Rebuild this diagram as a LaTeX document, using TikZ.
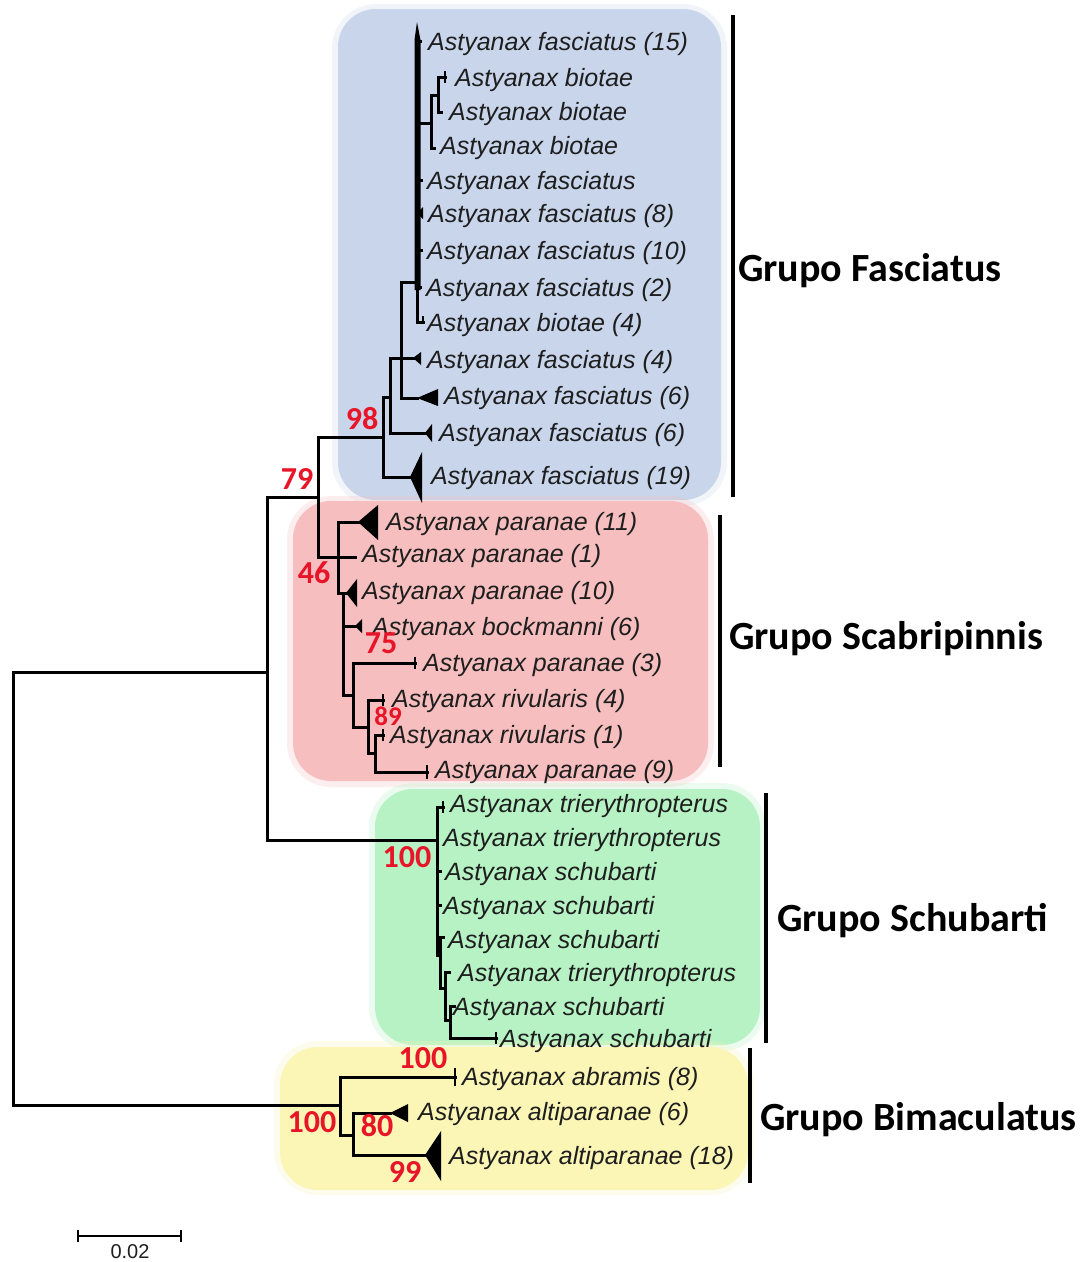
\documentclass[tikz,border=0pt]{standalone}
\usepackage{fontspec}
\setmainfont{Liberation Sans}
\newfontfamily\calib{Carlito}
\definecolor{bxblue}{RGB}{200,213,235}
\definecolor{bxpink}{RGB}{246,190,190}
\definecolor{bxgreen}{RGB}{182,242,196}
\definecolor{bxyellow}{RGB}{251,246,182}
\definecolor{bsred}{RGB}{232,20,40}
\definecolor{txt}{RGB}{30,30,30}
\begin{document}
\begin{tikzpicture}[x=1pt,y=-1pt,
  br/.style={line width=3pt, draw=black, line cap=rect},
  tick/.style={line width=2pt, draw=black},
  sp/.style={anchor=base west, inner sep=0pt, font=\fontsize{25}{30}\selectfont\itshape, text=txt},
  bs/.style={anchor=center, inner sep=0pt, font=\calib\bfseries\fontsize{32}{38}\selectfont, text=bsred},
  grp/.style={anchor=base west, inner sep=0pt, font=\calib\bfseries\fontsize{40}{48}\selectfont, text=black},
  gbar/.style={line width=4pt, draw=black},
  softbox/.style={opacity=0.25, rounded corners=44pt},
  box/.style={rounded corners=38pt}]
\useasboundingbox (0,0) rectangle (1084,1262);
\fill[white] (0,0) rectangle (1084,1262);
% ---------- background boxes ----------
\fill[bxblue, softbox] (332,4) rectangle (727,506);
\fill[bxblue, box] (338,9) rectangle (721,500);
\fill[bxpink, softbox] (287,496) rectangle (714,787);
\fill[bxpink, box] (293,501) rectangle (708,781);
\fill[bxgreen, softbox] (369,783) rectangle (766,1051);
\fill[bxgreen, box] (375,789) rectangle (760,1045);
\fill[bxyellow, softbox] (274,1041) rectangle (754,1195);
\fill[bxyellow, box] (280,1047) rectangle (748,1190);
% ---------- coordinates ----------
\coordinate (root) at (13,888);
\coordinate (nA) at (267,672);
\coordinate (nB) at (318,497);
\coordinate (n98) at (383,437);
\coordinate (n390) at (390,397);
\coordinate (n400) at (401,358);
\coordinate (nPoly) at (417,282);
\coordinate (tF15) at (420,41);
\coordinate (nB1) at (431,123);
\coordinate (nB2) at (438,95);
\coordinate (tBa) at (445,77);
\coordinate (tBb) at (441,112);
\coordinate (tBc) at (434,148);
\coordinate (tFa) at (421,180);
\coordinate (tF8) at (417,213);
\coordinate (tF10) at (421,250);
\coordinate (tF2) at (420,287);
\coordinate (tB4) at (423,322);
\coordinate (t4f) at (413,358);
\coordinate (t6a) at (417,398);
\coordinate (t6b) at (425,433);
\coordinate (t19) at (410,477);
\coordinate (nS1) at (338,557);
\coordinate (t11) at (358,522);
\coordinate (tP1) at (355,557);
\coordinate (nS2) at (343,593);
\coordinate (t10) at (346,593);
\coordinate (tBk) at (355,626);
\coordinate (nS3) at (353,695);
\coordinate (tP3) at (415,663);
\coordinate (nS4) at (368,727);
\coordinate (tR4) at (383,700);
\coordinate (nS5) at (375,753);
\coordinate (tR1) at (383,735);
\coordinate (tP9) at (427,772);
\coordinate (nSch) at (437,840);
\coordinate (tS1) at (443,807);
\coordinate (tS3) at (440,871);
\coordinate (tS4) at (440,905);
\coordinate (nSc2) at (440,955);
\coordinate (tS5) at (443,937);
\coordinate (nSc3) at (445,988);
\coordinate (tS6) at (449,972);
\coordinate (nSc4) at (450,1020);
\coordinate (tS7) at (454,1006);
\coordinate (tS8) at (496,1038);
\coordinate (nBi) at (340,1105);
\coordinate (tAb) at (455,1077);
\coordinate (nBi2) at (353,1135);
\coordinate (tA6) at (390,1113);
\coordinate (tA18) at (425,1155);
% ---------- branches ----------
\draw[br] (root) |- (nA);
\draw[br] (root) |- (nBi);
\draw[br] (nA) |- (nB);
\draw[br] (nA) |- (nSch);
\draw[br] (nB) |- (n98);
\draw[br] (nB) |- (nS1);
\draw[br] (n98) |- (n390);
\draw[br] (n98) |- (t19);
\draw[br] (n390) |- (n400);
\draw[br] (n390) |- (t6b);
\draw[br] (n400) |- (nPoly);
\draw[br] (n400) |- (t4f);
\draw[br] (n400) |- (t6a);
\draw[br] (nPoly) |- (tF15);
\draw[br] (nPoly) |- (nB1);
\draw[br] (nPoly) |- (tFa);
\draw[br] (nPoly) |- (tF8);
\draw[br] (nPoly) |- (tF10);
\draw[br] (nPoly) |- (tF2);
\draw[br] (nPoly) |- (tB4);
\draw[br] (nB1) |- (nB2);
\draw[br] (nB1) |- (tBc);
\draw[br] (nB2) |- (tBa);
\draw[br] (nB2) |- (tBb);
\draw[br] (nS1) |- (t11);
\draw[br] (nS1) |- (tP1);
\draw[br] (nS1) |- (nS2);
\draw[br] (nS2) |- (t10);
\draw[br] (nS2) |- (tBk);
\draw[br] (nS2) |- (nS3);
\draw[br] (nS3) |- (tP3);
\draw[br] (nS3) |- (nS4);
\draw[br] (nS4) |- (tR4);
\draw[br] (nS4) |- (nS5);
\draw[br] (nS5) |- (tR1);
\draw[br] (nS5) |- (tP9);
\draw[br] (nSch) |- (tS1);
\draw[br] (nSch) |- (tS3);
\draw[br] (nSch) |- (tS4);
\draw[br] (nSch) |- (nSc2);
\draw[br] (nSc2) |- (tS5);
\draw[br] (nSc2) |- (nSc3);
\draw[br] (nSc3) |- (tS6);
\draw[br] (nSc3) |- (nSc4);
\draw[br] (nSc4) |- (tS7);
\draw[br] (nSc4) |- (tS8);
\draw[br] (nBi) |- (tAb);
\draw[br] (nBi) |- (nBi2);
\draw[br] (nBi2) |- (tA6);
\draw[br] (nBi2) |- (tA18);
% thick collapsed top of the polytomy
\fill (414.5,290) -- (414.5,40) -- (417,22) -- (420.5,40) -- (420.5,290) -- cycle;
% ---------- collapsed clades (triangles) ----------
\fill (t19) -- ++(12,-25) -- ++(0,51) -- cycle;
\fill (t6a) -- ++(21,-9) -- ++(0,17) -- cycle;
\fill (t4f) -- ++(8,-6) -- ++(0,13) -- cycle;
\fill (t6b) -- ++(7,-9) -- ++(0,18) -- cycle;
\fill (tF8) -- ++(6,-6) -- ++(0,12) -- cycle;
\fill (t11) -- ++(20,-17) -- ++(0,35) -- cycle;
\fill (t10) -- ++(11,-14) -- ++(0,28) -- cycle;
\fill (tBk) -- ++(7,-7) -- ++(0,14) -- cycle;
\fill (tA6) -- ++(18,-9) -- ++(0,18) -- cycle;
\fill (tA18) -- ++(16,-24) -- ++(0,50) -- cycle;
% ---------- tip ticks ----------
\draw[tick] (tBa) ++(0,-6) -- ++(0,12);
\draw[tick] (tB4) ++(0,-6) -- ++(0,8);
\draw[tick] (tP3) ++(0,-6) -- ++(0,12);
\draw[tick] (tR4) ++(0,-6) -- ++(0,12);
\draw[tick] (tR1) ++(0,-6) -- ++(0,12);
\draw[tick] (tP9) ++(0,-7) -- ++(0,14);
\draw[tick] (tS1) ++(0,-6) -- ++(0,12);
\draw[tick] (tS8) ++(0,-6) -- ++(0,12);
\draw[tick] (tAb) ++(0,-9) -- ++(0,18);
% ---------- species labels ----------
\node[sp] (l1) at (428,50) {Astyanax fasciatus (15)};
\node[sp] (l2) at (455,86) {Astyanax biotae};
\node[sp] (l3) at (449,120) {Astyanax biotae};
\node[sp] (l4) at (440,154) {Astyanax biotae};
\node[sp] (l5) at (427,189) {Astyanax fasciatus};
\node[sp] (l6) at (428,222) {Astyanax fasciatus (8)};
\node[sp] (l7) at (427,259) {Astyanax fasciatus (10)};
\node[sp] (l8) at (426,296) {Astyanax fasciatus (2)};
\node[sp] (l9) at (427,331) {Astyanax biotae (4)};
\node[sp] (l10) at (427,368) {Astyanax fasciatus (4)};
\node[sp] (l11) at (444,404) {Astyanax fasciatus (6)};
\node[sp] (l12) at (439,441) {Astyanax fasciatus (6)};
\node[sp] (l13) at (431,484) {Astyanax fasciatus (19)};
\node[sp] (l14) at (386,530) {Astyanax paranae (11)};
\node[sp] (l15) at (362,562) {Astyanax paranae (1)};
\node[sp] (l16) at (362,599) {Astyanax paranae (10)};
\node[sp] (l17) at (372,635) {Astyanax bockmanni (6)};
\node[sp] (l18) at (423,671) {Astyanax paranae (3)};
\node[sp] (l19) at (392,707) {Astyanax rivularis (4)};
\node[sp] (l20) at (390,743) {Astyanax rivularis (1)};
\node[sp] (l21) at (435,778) {Astyanax paranae (9)};
\node[sp] (l22) at (450,812) {Astyanax trierythropterus};
\node[sp] (l23) at (443,846) {Astyanax trierythropterus};
\node[sp] (l24) at (445,880) {Astyanax schubarti};
\node[sp] (l25) at (443,914) {Astyanax schubarti};
\node[sp] (l26) at (448,948) {Astyanax schubarti};
\node[sp] (l27) at (458,981) {Astyanax trierythropterus};
\node[sp] (l28) at (453,1015) {Astyanax schubarti};
\node[sp] (l29) at (500,1047) {Astyanax schubarti};
\node[sp] (l30) at (462,1085) {Astyanax abramis (8)};
\node[sp] (l31) at (418,1120) {Astyanax altiparanae (6)};
\node[sp] (l32) at (449,1164) {Astyanax altiparanae (18)};
% ---------- bootstrap values ----------
\node[bs] (b79) at (297,479) {79};
\node[bs] (b98) at (362,419) {98};
\node[bs] (b46) at (314,573) {46};
\node[bs] (b75) at (381,643) {75};
\node[bs, font=\calib\bfseries\fontsize{27}{32}\selectfont] (b89) at (388,716) {89};
\node[bs] (b100a) at (407,857) {100};
\node[bs] (b100b) at (423,1058) {100};
\node[bs] (b100c) at (312,1122) {100};
\node[bs] (b80) at (377,1126) {80};
\node[bs] (b99) at (405,1172) {99};
% ---------- group bars and labels ----------
\draw[gbar] (733,15) -- (733,497);
\draw[gbar] (720,515) -- (720,767);
\draw[gbar] (766,793) -- (766,1043);
\draw[gbar] (750,1048) -- (750,1183);
\node[grp] (g1) at (738,281) {Grupo Fasciatus};
\node[grp] (g2) at (729,649) {Grupo Scabripinnis};
\node[grp] (g3) at (777,931) {Grupo Schubarti};
\node[grp] (g4) at (760,1130) {Grupo Bimaculatus};
% ---------- scale bar ----------
\coordinate (sbL) at (78,1236);
\coordinate (sbR) at (181,1236);
\draw[line width=2.4pt] (sbL) -- (sbR);
\draw[line width=2.4pt] (sbL) ++(0,-6) -- ++(0,12);
\draw[line width=2.4pt] (sbR) ++(0,-6) -- ++(0,12);
\node[anchor=center, inner sep=0pt, font=\fontsize{20}{24}\selectfont, text=txt] (sbt) at (130,1252) {0.02};
\end{tikzpicture}
\end{document}
